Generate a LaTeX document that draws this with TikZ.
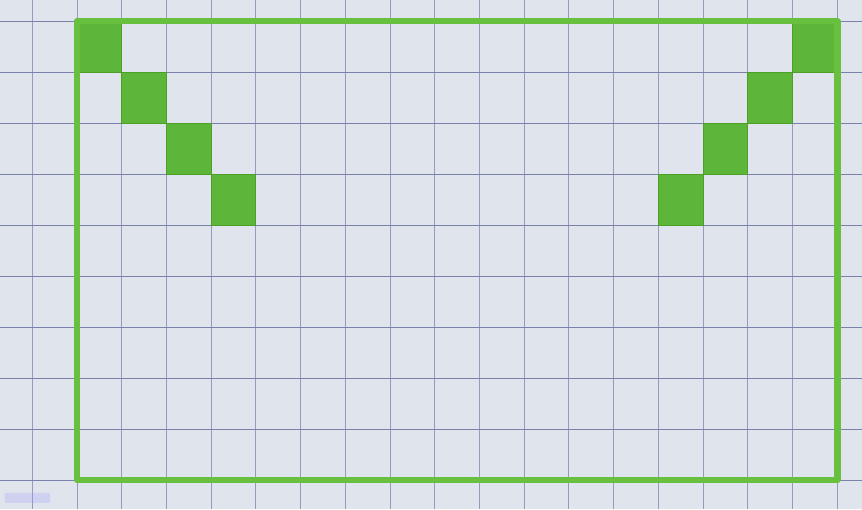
\documentclass[tikz,border=0pt]{standalone}
\usepackage{tikz}
\usetikzlibrary{calc}

\definecolor{kagit}{RGB}{224,228,236}
\definecolor{cizgi}{RGB}{122,130,172}
\definecolor{yesil}{RGB}{84,178,44}
\definecolor{kenar}{RGB}{104,192,62}

\begin{document}
\begin{tikzpicture}[
  x=44.72pt, y=-51pt,
  izgara/.style={draw=cizgi, line width=1pt},
  kare/.style={fill=yesil, fill opacity=0.93, draw=yesil!90!black, line width=1pt},
  cerceve/.style={draw=kenar, line width=6.5pt, line join=round}
]
% paper
\fill[kagit] (-0.722,-0.412) rectangle (18.553,9.569);
\useasboundingbox (-0.722,-0.412) rectangle (18.553,9.569);

% grid
\foreach \i in {0,...,18}
  \draw[izgara, cizgi!80] (\i,-0.412) -- (\i,9.569);
\foreach \j in {0,...,9}
  \draw[izgara] (-0.722,\j) -- (18.553,\j);

% faint smudge
\fill[blue!40, opacity=0.25, rounded corners=2pt] (-0.62,9.25) rectangle (0.4,9.45);

% steps, left side
\foreach \c/\r in {1/0, 2/1, 3/2, 4/3}
  \draw[kare] (\c,\r) rectangle ++(1,1);
% steps, right side
\foreach \c/\r in {17/0, 16/1, 15/2, 14/3}
  \draw[kare] (\c,\r) rectangle ++(1,1);

% green frame
\draw[cerceve] (1,0) rectangle (18,9);
\end{tikzpicture}
\end{document}
